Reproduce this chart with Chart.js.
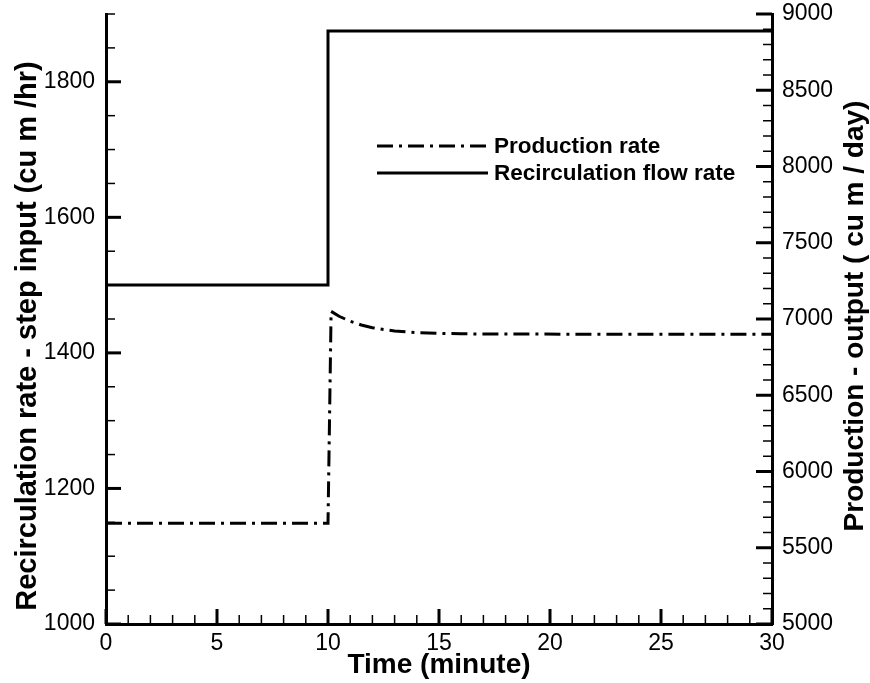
<!DOCTYPE html>
<html>
<head>
<meta charset="utf-8">
<script src="https://cdn.jsdelivr.net/npm/chart.js@4.4.1/dist/chart.umd.min.js"></script>
<style>
  body { margin: 0; background: #fff; }
  canvas { display: block; }
</style>
</head>
<body>
<canvas id="chart" width="870" height="683"></canvas>
<script>
// time in minutes
const recircTime = [0, 10, 10, 30];
const recircFlow = [1500, 1500, 1875, 1875]; // cu m / hr, left axis

const prodTime = [0, 10, 10.14, 10.5, 11, 11.5, 12, 12.5, 13, 14, 15, 16, 18, 30];
const prodRate = [5660, 5660, 7050, 7018, 6985, 6961, 6943, 6931, 6922, 6911, 6906, 6903, 6901, 6900]; // cu m / day, right axis

const timeTicks = [0, 5, 10, 15, 20, 25, 30];
const recircTicks = [1000, 1200, 1400, 1600, 1800];
const prodTicks = [5000, 5500, 6000, 6500, 7000, 7500, 8000, 8500, 9000];

const legendLabels = ['Production rate', 'Recirculation flow rate'];

const FONT = '"Liberation Sans", Arial, Helvetica, sans-serif';
const dashDot = [16, 6, 3, 6];

function toPoints(xs, ys) {
  return xs.map((x, i) => ({ x: x, y: ys[i] }));
}

// inward major/minor ticks + axis titles + legend
const decorations = {
  id: 'decorations',
  afterDraw(chart) {
    const { ctx, chartArea: a, scales } = chart;
    ctx.save();
    ctx.strokeStyle = '#000';
    ctx.setLineDash([]);

    const tick = (scale, value, len, width) => {
      const p = scale.getPixelForValue(value);
      ctx.lineWidth = width;
      ctx.beginPath();
      if (scale.id === 'x') {
        ctx.moveTo(p, a.bottom);
        ctx.lineTo(p, a.bottom - len);
      } else if (scale.id === 'y') {
        ctx.moveTo(a.left, p);
        ctx.lineTo(a.left + len, p);
      } else {
        ctx.moveTo(a.right, p);
        ctx.lineTo(a.right - len, p);
      }
      ctx.stroke();
    };

    for (let v = 0; v <= 30; v += 1) {
      if (v % 5 === 0) tick(scales.x, v, 15, 3);
      else tick(scales.x, v, 9, 1.5);
    }
    for (let v = 1000; v <= 1900; v += 50) {
      if (v % 200 === 0) tick(scales.y, v, 15, 3);
      else tick(scales.y, v, 9, 1.5);
    }
    for (let v = 5000; v <= 9000; v += 100) {
      if (v % 500 === 0) tick(scales.y1, v, 16, 3);
      else tick(scales.y1, v, 9, 1.5);
    }

    // axis titles
    ctx.fillStyle = '#000';
    ctx.textAlign = 'center';
    ctx.textBaseline = 'middle';
    ctx.font = 'bold 28px ' + FONT;
    ctx.fillText('Time (minute)', (a.left + a.right) / 2, 665);

    ctx.save();
    ctx.font = 'bold 29px ' + FONT;
    ctx.translate(28, 336);
    ctx.rotate(-Math.PI / 2);
    ctx.fillText('Recirculation rate - step input (cu m /hr)', 0, 0);
    ctx.restore();

    ctx.save();
    ctx.translate(855, 316);
    ctx.rotate(-Math.PI / 2);
    ctx.fillText('Production - output ( cu m / day)', 0, 0);
    ctx.restore();

    // legend
    const lx0 = 377, lx1 = 488;
    const rows = [146, 173];
    ctx.lineWidth = 3;
    ctx.lineCap = 'butt';
    ctx.font = 'bold 22.5px ' + FONT;
    ctx.textAlign = 'left';
    legendLabels.forEach((label, i) => {
      ctx.setLineDash(i === 0 ? dashDot : []);
      ctx.beginPath();
      ctx.moveTo(lx0, rows[i]);
      ctx.lineTo(lx1, rows[i]);
      ctx.stroke();
      ctx.setLineDash([]);
      ctx.fillText(label, 494, rows[i] + 1);
    });

    ctx.restore();
  }
};

const tickFont = { family: FONT, size: 23 };
const plain = v => String(v);

new Chart(document.getElementById('chart'), {
  type: 'line',
  data: {
    datasets: [
      {
        label: legendLabels[1],
        data: toPoints(recircTime, recircFlow),
        yAxisID: 'y',
        borderColor: '#000',
        borderWidth: 3,
        pointRadius: 0,
        tension: 0,
        fill: false
      },
      {
        label: legendLabels[0],
        data: toPoints(prodTime, prodRate),
        yAxisID: 'y1',
        borderColor: '#000',
        borderWidth: 3,
        borderDash: dashDot,
        pointRadius: 0,
        tension: 0,
        fill: false
      }
    ]
  },
  options: {
    responsive: false,
    animation: false,
    layout: { padding: { top: 14, left: 0, right: 0, bottom: 0 } },
    plugins: {
      legend: { display: false },
      tooltip: { enabled: false }
    },
    scales: {
      x: {
        type: 'linear',
        position: 'bottom',
        min: 0,
        max: 30,
        grid: { display: false, drawTicks: false },
        border: { display: true, width: 3, color: '#000' },
        ticks: { font: tickFont, color: '#000', padding: 6, maxRotation: 0, autoSkip: false, callback: plain },
        afterBuildTicks(s) { s.ticks = timeTicks.map(v => ({ value: v })); },
        afterFit(s) { s.height = 59; s.paddingLeft = 0; s.paddingRight = 0; }
      },
      y: {
        type: 'linear',
        position: 'left',
        min: 1000,
        max: 1900,
        grid: { display: false, drawTicks: false },
        border: { display: true, width: 3, color: '#000' },
        ticks: { font: tickFont, color: '#000', padding: 11, autoSkip: false, callback: plain },
        afterBuildTicks(s) { s.ticks = recircTicks.map(v => ({ value: v })); },
        afterFit(s) { s.width = 106; s.paddingTop = 0; s.paddingBottom = 0; }
      },
      y1: {
        type: 'linear',
        position: 'right',
        min: 5000,
        max: 9000,
        grid: { display: false, drawTicks: false },
        border: { display: true, width: 3, color: '#000' },
        ticks: { font: tickFont, color: '#000', padding: 10, autoSkip: false, callback: plain },
        afterBuildTicks(s) { s.ticks = prodTicks.map(v => ({ value: v })); },
        afterFit(s) { s.width = 98; s.paddingTop = 0; s.paddingBottom = 0; }
      }
    }
  },
  plugins: [decorations]
});
</script>
</body>
</html>
